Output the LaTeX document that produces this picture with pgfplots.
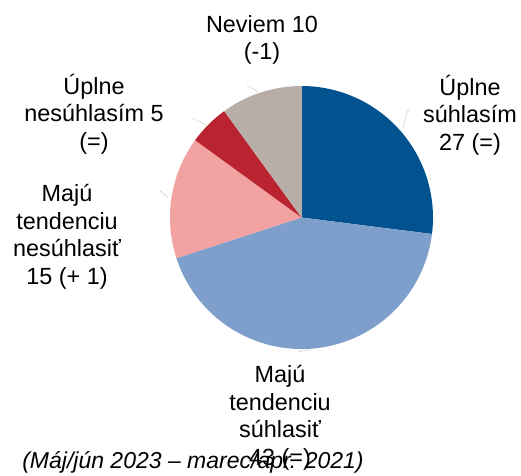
\documentclass[border=0pt]{standalone}
\usepackage{pgfplots}
\pgfplotsset{compat=1.18}
\usepackage{pgfplotstable}
\usepackage{fontspec}
\setmainfont{Liberation Sans}

\definecolor{cA}{HTML}{02528F}
\definecolor{cB}{HTML}{7E9ECB}
\definecolor{cC}{HTML}{F2A3A1}
\definecolor{cD}{HTML}{B92430}
\definecolor{cE}{HTML}{B9ADA7}
\definecolor{lead}{HTML}{D2D2D2}

\pgfplotstableread{
label value
UplneSuhlasim 27
TendenciuSuhlasit 43
TendenciuNesuhlasit 15
UplneNesuhlasim 5
Neviem 10
}\piedata

\pgfplotstablegetelem{0}{value}\of\piedata \edef\vA{\pgfplotsretval}
\pgfplotstablegetelem{1}{value}\of\piedata \edef\vB{\pgfplotsretval}
\pgfplotstablegetelem{2}{value}\of\piedata \edef\vC{\pgfplotsretval}
\pgfplotstablegetelem{3}{value}\of\piedata \edef\vD{\pgfplotsretval}
\pgfplotstablegetelem{4}{value}\of\piedata \edef\vE{\pgfplotsretval}
\pgfmathsetmacro\aA{90}
\pgfmathsetmacro\aB{\aA-3.6*\vA}
\pgfmathsetmacro\aC{\aB-3.6*\vB}
\pgfmathsetmacro\aD{\aC-3.6*\vC}
\pgfmathsetmacro\aE{\aD-3.6*\vD}
\pgfmathsetmacro\aF{\aE-3.6*\vE}

\newcommand\lbl{\fontsize{23.4}{27.5}\selectfont}

\begin{document}
\begin{tikzpicture}
\begin{axis}[
  hide axis, clip=false,
  x=1pt, y=1pt,
  xmin=0, xmax=521, ymin=-475, ymax=0,
]
\def\cx{301.5}\def\cy{-217.5}\def\R{131.5pt}
\fill[cA] (axis cs:\cx,\cy) -- ++(\aA:\R) arc[start angle=\aA, end angle=\aB, radius=\R] -- cycle;
\fill[cB] (axis cs:\cx,\cy) -- ++(\aB:\R) arc[start angle=\aB, end angle=\aC, radius=\R] -- cycle;
\fill[cC] (axis cs:\cx,\cy) -- ++(\aC:\R) arc[start angle=\aC, end angle=\aD, radius=\R] -- cycle;
\fill[cD] (axis cs:\cx,\cy) -- ++(\aD:\R) arc[start angle=\aD, end angle=\aE, radius=\R] -- cycle;
\fill[cE] (axis cs:\cx,\cy) -- ++(\aE:\R) arc[start angle=\aE, end angle=\aF, radius=\R] -- cycle;

% leader lines
\draw[lead, line width=0.6pt] (axis cs:247,-85) -- (axis cs:258,-92);
\draw[lead, line width=0.6pt] (axis cs:410,-110) -- (axis cs:407,-111) -- (axis cs:403,-128);
\draw[lead, line width=0.6pt] (axis cs:192,-118) -- (axis cs:206,-125);
\draw[lead, line width=0.6pt] (axis cs:160,-191) -- (axis cs:168,-197);
\draw[lead, line width=0.6pt] (axis cs:298,-352) -- (axis cs:312,-349);

% labels
\node[align=center, font=\lbl] at (axis cs:262,-40) {Neviem 10\\(-1)};
\node[align=center, font=\lbl] at (axis cs:470,-115) {Úplne\\súhlasím\\27 (=)};
\node[align=center, font=\lbl] at (axis cs:94,-114) {Úplne\\nesúhlasím 5\\(=)};
\node[align=center, font=\lbl] at (axis cs:67,-237) {Majú\\tendenciu\\nesúhlasiť\\15 (+ 1)};
\node[align=center, font=\lbl] at (axis cs:280,-418) {Majú\\tendenciu\\súhlasiť\\43 (=)};
\node[font=\fontsize{23}{27}\selectfont\itshape] at (axis cs:193,-462) {(Máj/jún 2023 – marec/apr. 2021)};
\end{axis}
\pgfresetboundingbox
\useasboundingbox (0,0) rectangle (521pt,475pt);
\end{tikzpicture}
\end{document}
